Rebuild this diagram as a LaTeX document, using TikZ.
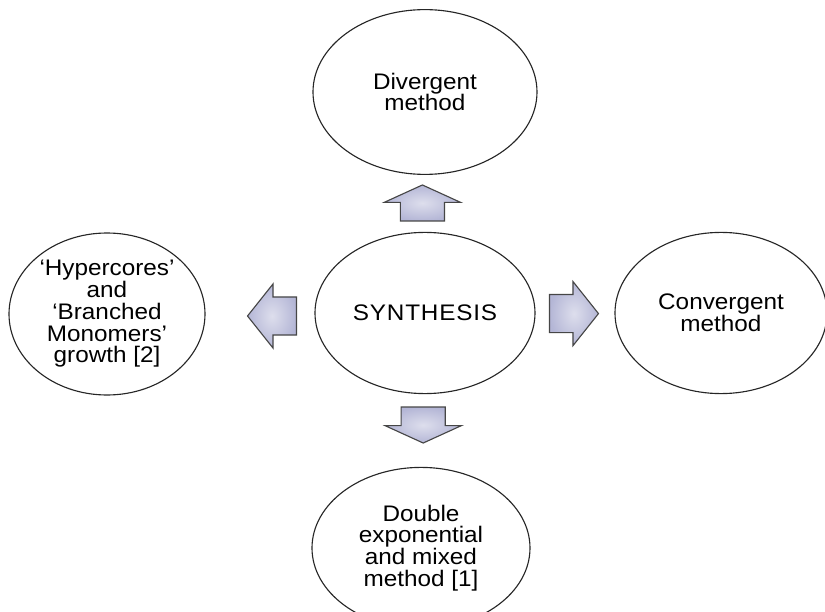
\documentclass[tikz,border=0pt]{standalone}
\usepackage{fontspec}
\setmainfont{Liberation Sans}[FakeStretch=1.08]
\usepackage{tikz}
\usetikzlibrary{shapes,arrows,positioning,calc,arrows.meta}

\definecolor{arrowfill}{RGB}{180,182,214}
\definecolor{arrowline}{RGB}{70,70,70}

\tikzset{
  bubble/.style={draw=black!85, line width=0.8pt, ellipse, align=center, inner sep=0pt,
    font=\fontsize{16}{15.5}\selectfont},
  blockarrow/.style={single arrow, draw=arrowline, line width=0.8pt, inner xsep=0pt,
    inner color=arrowfill!45!white, outer color=arrowfill, single arrow head indent=0pt},
  varrow/.style={blockarrow, inner ysep=0.5375cm, minimum height=0.9cm,
    single arrow head extend=0.4cm, single arrow tip angle=131},
  harrow/.style={blockarrow, inner ysep=0.4625cm, minimum height=1.225cm,
    single arrow head extend=0.325cm, single arrow tip angle=103}
}

\begin{document}
\begin{tikzpicture}
    \useasboundingbox (0,0) rectangle (20.625,-15.3);

    % Centre
    \node[bubble, minimum width=5.5cm, minimum height=4.03cm] (synth) at (10.625,-7.825) {S\kern.6pt Y\kern.6pt N\kern.6pt T\kern.6pt H\kern.6pt E\kern.6pt S\kern.6pt I\kern.6pt S};

    % Surrounding methods
    \node[bubble, minimum width=5.6cm, minimum height=4.12cm] (diverg) at (10.625,-2.3) {Divergent\\method};
    \node[bubble, minimum width=5.3cm, minimum height=4.03cm] (converg) at (18.025,-7.825) {Convergent\\method};
    \node[bubble, minimum width=4.9cm, minimum height=4.05cm] (hyper) at (2.675,-7.85) {`Hypercores'\\and\\`Branched\\Monomers'\\growth [2]};
    \node[bubble, minimum width=5.45cm, minimum height=4.03cm] (double) at (10.525,-13.7) {Double\\exponential\\and mixed\\method [1]};

    % Block arrows
    \node[varrow, rotate=90] (toDiv) at (10.56,-5.2) {};
    \node[varrow, rotate=270] (toDouble) at (10.58,-10.5) {};
    \node[harrow, rotate=180] (toHyper) at (6.99,-7.9) {};
    \node[harrow] (toConv) at (14.16,-7.84) {};

\end{tikzpicture}
\end{document}
